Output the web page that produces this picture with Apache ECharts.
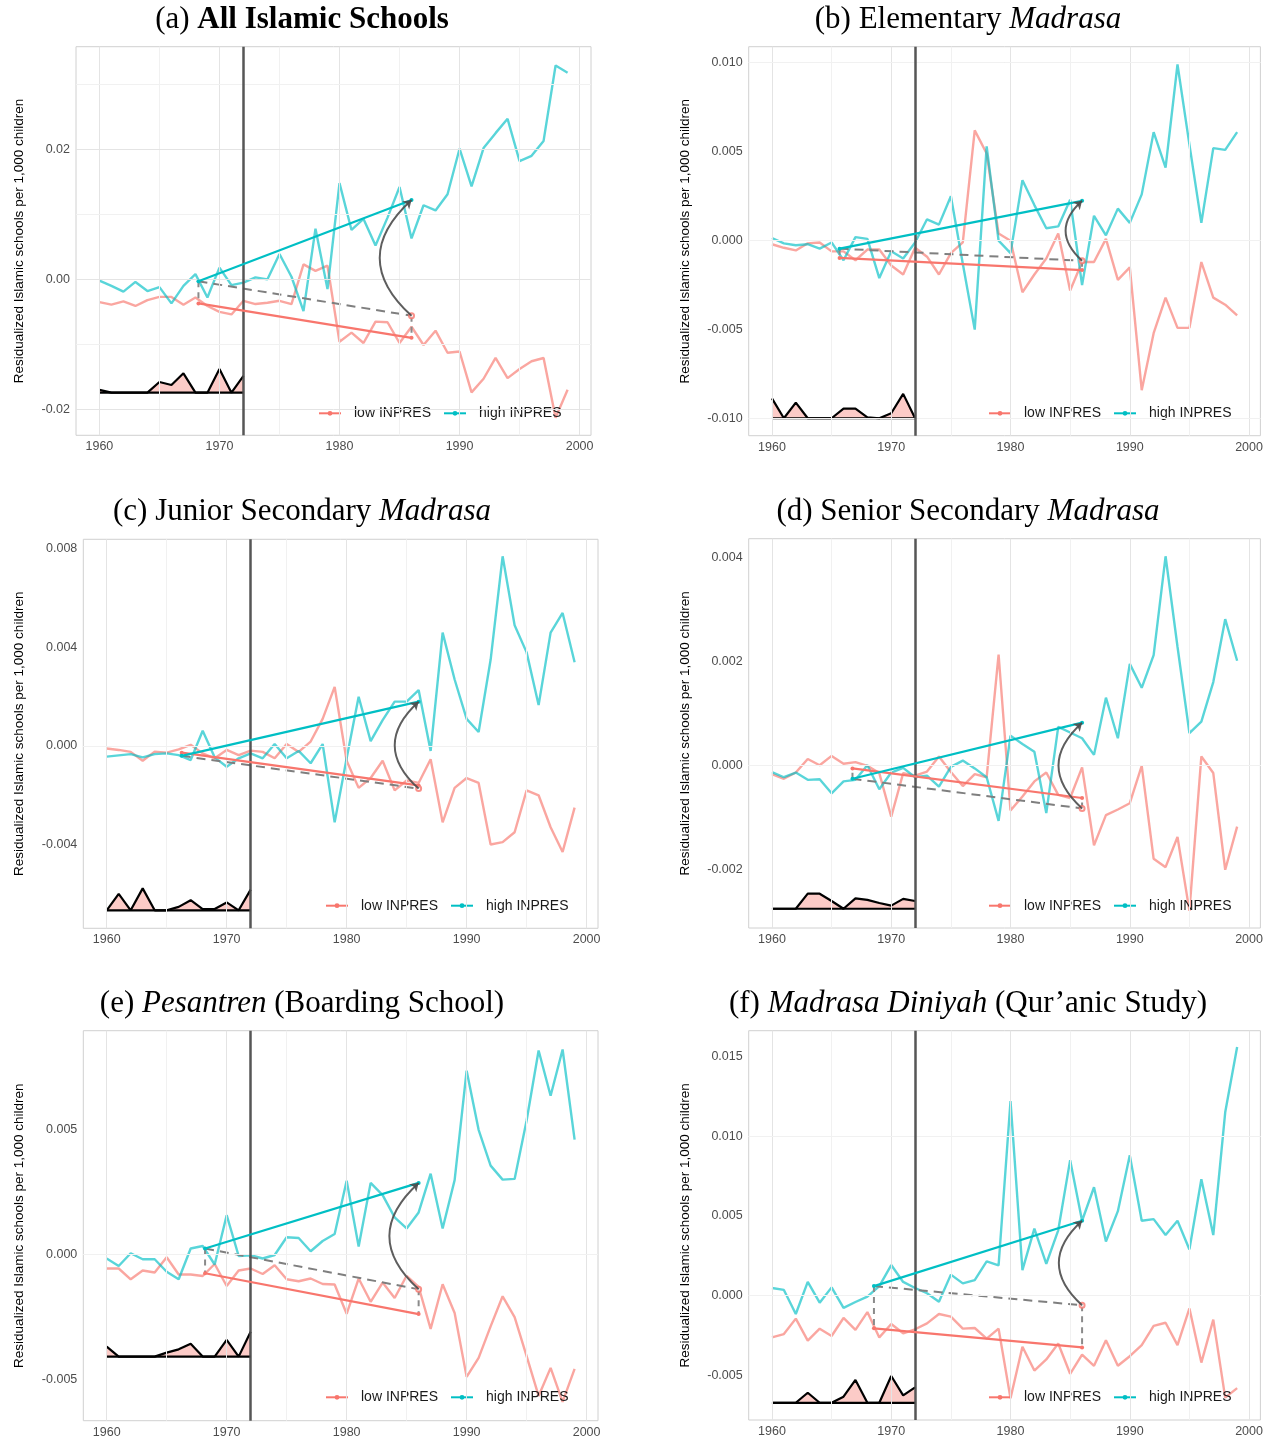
<!DOCTYPE html>
<html><head><meta charset="utf-8">
<script src="https://cdn.jsdelivr.net/npm/echarts@6/dist/echarts.min.js"></script>
<style>html,body{margin:0;padding:0;background:#fff}#c{width:1275px;height:1439px}</style>
</head><body><div id="c"></div>
<script>
// ---------------- DATA ----------------
const years = [1960,1961,1962,1963,1964,1965,1966,1967,1968,1969,1970,1971,1972,1973,1974,1975,1976,1977,1978,1979,
               1980,1981,1982,1983,1984,1985,1986,1987,1988,1989,1990,1991,1992,1993,1994,1995,1996,1997,1998,1999];
const polyYears = [1960,1961,1962,1963,1964,1965,1966,1967,1968,1969,1970,1971,1972];
const xTicks = [1960,1970,1980,1990,2000];
const xMinor = [1965,1975,1985,1995];
const seriesNames = ['low INPRES','high INPRES'];
const yAxisTitle = 'Residualized Islamic schools per 1,000 children';
const titles = [
  '{n|(a) }{b|All Islamic Schools}',
  '{n|(b) Elementary }{i|Madrasa}',
  '{n|(c) Junior Secondary }{i|Madrasa}',
  '{n|(d) Senior Secondary }{i|Madrasa}',
  '{n|(e) }{i|Pesantren}{n| (Boarding School)}',
  '{n|(f) }{i|Madrasa Diniyah}{n| (Qur\u2019anic Study)}'
];

// (a) All Islamic Schools
const lowA = [-0.0035,-0.0039,-0.0034,-0.0041,-0.0032,-0.0027,-0.0027,-0.0039,-0.0028,-0.0041,-0.0050,-0.0054,-0.0033,-0.0038,-0.0036,-0.0033,-0.0038,0.0023,0.0013,0.0021,
              -0.0096,-0.0082,-0.0098,-0.0065,-0.0066,-0.0098,-0.0073,-0.0101,-0.0079,-0.0113,-0.0111,-0.0174,-0.0153,-0.0121,-0.0152,-0.0138,-0.0126,-0.0121,-0.0213,-0.0170];
const highA = [-0.0002,-0.0010,-0.0019,-0.0004,-0.0018,-0.0012,-0.0037,-0.0010,0.0008,-0.0028,0.0018,-0.0009,-0.0005,0.0003,0.0000,0.0039,0.0004,-0.0049,0.0078,-0.0015,
               0.0148,0.0076,0.0093,0.0052,0.0095,0.0142,0.0063,0.0114,0.0106,0.0131,0.0201,0.0143,0.0202,0.0225,0.0247,0.0182,0.0190,0.0213,0.0329,0.0318];
const polyA = [-0.0170,-0.01744,-0.01744,-0.01744,-0.01744,-0.0158,-0.01626,-0.01446,-0.01744,-0.01744,-0.0138,-0.01744,-0.01487];
const trendA = [1968.25,-0.0003,0.0122,-0.0037,-0.0090]; // start year, high start, high end(1986), low start, low end(1986)
const yTicksA = [-0.02,0,0.02];
const yMinorA = [-0.01,0.01,0.03];

// (b) Elementary Madrasa
const lowB = [-0.0002,-0.0004,-0.00055,-0.00015,-0.0001,-0.0006,-0.0006,-0.0011,-0.0005,-0.0005,-0.0014,-0.0019,-0.0004,-0.0009,-0.0019,-0.0007,-0.0001,0.0062,0.0049,0.0004,
              0.0000,-0.0029,-0.0019,-0.0010,0.0004,-0.0028,-0.0012,-0.0012,0.0001,-0.0022,-0.0015,-0.0084,-0.0052,-0.0032,-0.0049,-0.0049,-0.0012,-0.0032,-0.0036,-0.0042];
const highB = [0.00015,-0.00015,-0.00026,-0.0002,-0.00045,-0.0001,-0.0011,0.0002,0.0001,-0.0021,-0.0006,-0.0010,-0.0001,0.0012,0.0009,0.0025,-0.0013,-0.0050,0.0053,0.0000,
               -0.0007,0.0034,0.0020,0.0007,0.0008,0.0023,-0.0025,0.0014,0.0003,0.0018,0.0010,0.0026,0.0061,0.0041,0.0099,0.0054,0.0010,0.0052,0.0051,0.0061];
const polyB = [-0.00886,-0.00998,-0.0091,-0.00998,-0.00998,-0.00998,-0.00944,-0.00944,-0.00993,-0.00998,-0.0097,-0.00861,-0.00998];
const trendB = [1965.67,-0.00045,0.00224,-0.00097,-0.00165];
const yTicksB = [-0.01,-0.005,0,0.005,0.01];
const yMinorB = [-0.0075,-0.0025,0.0025,0.0075];

// (c) Junior Secondary Madrasa
const lowC = [-0.0001,-0.00016,-0.00024,-0.0006,-0.00023,-0.00027,-0.00014,0.00005,-0.0003,-0.0005,-0.00016,-0.00037,-0.00019,-0.00024,-0.0005,0.00008,-0.00024,0.00018,0.0011,0.0024,
              -0.0006,-0.0017,-0.0013,-0.0006,-0.0018,-0.0014,-0.0015,-0.00054,-0.0031,-0.0017,-0.0013,-0.0015,-0.0040,-0.0039,-0.0035,-0.0018,-0.0020,-0.0033,-0.0043,-0.0025];
const highC = [-0.00043,-0.00038,-0.00033,-0.00046,-0.00033,-0.0003,-0.00037,-0.00057,0.00062,-0.00046,-0.00084,-0.0005,-0.0003,-0.0005,0.00008,-0.0005,-0.0002,-0.0007,0.00008,-0.0031,
               -0.0005,0.0020,0.0002,0.00105,0.0018,0.0018,0.00227,-0.0002,0.0046,0.0027,0.0011,0.00057,0.0035,0.0077,0.0049,0.0038,0.00166,0.0046,0.0054,0.0034];
const polyC = [-0.00667,-0.0060,-0.00667,-0.00578,-0.00667,-0.00667,-0.00653,-0.00626,-0.00662,-0.00662,-0.00635,-0.00667,-0.00583];
const trendC = [1966.25,-0.0004,0.0018,-0.00027,-0.0016];
const yTicksC = [-0.004,0,0.004,0.008];
const yMinorC = [-0.006,-0.002,0.002,0.006];

// (d) Senior Secondary Madrasa
const lowD = [-0.00017,-0.00026,-0.00014,0.00012,0.0000,0.00018,0.00003,0.00006,-0.00001,-0.00015,-0.00099,-0.00015,-0.0002,-0.00012,0.00017,-0.00013,-0.0004,-0.00017,-0.00023,0.00213,
              -0.00087,-0.0006,-0.00031,-0.00014,-0.00057,-0.00063,-0.00004,-0.00154,-0.00096,-0.00085,-0.00073,-0.00001,-0.0018,-0.00196,-0.00138,-0.0028,0.00017,-0.00015,-0.00201,-0.00118];
const highD = [-0.00013,-0.00023,-0.00014,-0.00028,-0.00027,-0.00054,-0.00031,-0.00028,0.0000,-0.00046,-0.00014,-0.00005,-0.00023,-0.0002,-0.00041,-0.00003,0.00009,-0.00006,-0.00023,-0.00107,
               0.00057,0.00041,0.00026,-0.00092,0.00074,0.00063,0.00052,0.0002,0.0013,0.00052,0.00195,0.00149,0.00212,0.00402,0.00228,0.00062,0.00084,0.0016,0.00281,0.00201];
const polyD = [-0.00276,-0.00276,-0.00276,-0.00247,-0.00247,-0.00261,-0.00276,-0.00256,-0.00259,-0.00265,-0.0027,-0.00257,-0.00261];
const trendD = [1966.75,-0.00026,0.00082,-0.00006,-0.00063];
const yTicksD = [-0.002,0,0.002,0.004];
const yMinorD = [-0.003,-0.001,0.001,0.003];

// (e) Pesantren
const lowE = [-0.00057,-0.00057,-0.0010,-0.00065,-0.00073,-0.00012,-0.00081,-0.00081,-0.00087,-0.00039,-0.00127,-0.00065,-0.00057,-0.00079,-0.00044,-0.0010,-0.00108,-0.00097,-0.00119,-0.00121,
              -0.00238,-0.00097,-0.0019,-0.00113,-0.00175,-0.00086,-0.0013,-0.00298,-0.0012,-0.00235,-0.0049,-0.00414,-0.00288,-0.00168,-0.00251,-0.00407,-0.00566,-0.00454,-0.0059,-0.00458];
const highE = [-0.00017,-0.00047,0.00004,-0.0002,-0.0002,-0.0007,-0.0010,0.00023,0.00033,-0.00041,0.00156,-0.00007,-0.00004,-0.00017,-0.00003,0.00068,0.00065,0.00012,0.00053,0.00081,
               0.00294,0.00031,0.00285,0.00236,0.00147,0.00103,0.00167,0.00322,0.00103,0.00296,0.00733,0.00497,0.00354,0.00298,0.00301,0.00534,0.00814,0.00633,0.00818,0.00458];
const polyE = [-0.00369,-0.00409,-0.00409,-0.00409,-0.00409,-0.00393,-0.0038,-0.00358,-0.00409,-0.00409,-0.00342,-0.00409,-0.0031];
const trendE = [1968.2,0.00023,0.00285,-0.00076,-0.00239];
const yTicksE = [-0.005,0,0.005];
const yMinorE = [-0.0025,0.0025,0.0075];

// (f) Madrasa Diniyah
const lowF = [-0.00262,-0.00241,-0.00144,-0.00282,-0.00207,-0.00253,-0.0014,-0.00215,-0.00103,-0.00262,-0.00178,-0.00236,-0.00211,-0.00174,-0.00115,-0.00132,-0.00207,-0.00203,-0.0027,-0.00207,
              -0.00644,-0.0032,-0.0047,-0.0040,-0.0030,-0.0049,-0.0037,-0.0044,-0.0028,-0.0044,-0.0038,-0.0031,-0.0019,-0.0017,-0.0031,-0.0008,-0.0042,-0.0015,-0.0064,-0.0058];
const highF = [0.00048,0.00036,-0.00115,0.00086,-0.00044,0.00052,-0.00077,-0.0004,-0.00006,0.0006,0.00192,0.00086,0.00048,0.00015,-0.00038,0.00132,0.00077,0.00098,0.00215,0.0019,
               0.0122,0.0016,0.0042,0.0020,0.0041,0.0085,0.0047,0.0068,0.0034,0.0053,0.0088,0.0047,0.0048,0.0038,0.0047,0.0029,0.0073,0.0038,0.0115,0.0156];
const polyF = [-0.00672,-0.00672,-0.00672,-0.00609,-0.00672,-0.00672,-0.00634,-0.00529,-0.00672,-0.00672,-0.00504,-0.00626,-0.00575];
const trendF = [1968.55,0.0006,0.0047,-0.00205,-0.00325];
const yTicksF = [-0.005,0,0.005,0.01,0.015];
const yMinorF = [-0.0075,-0.0025,0.0025,0.0075,0.0125];

const polyBase = [-0.01744,-0.00998,-0.00667,-0.00276,-0.00409,-0.00672];
const policyYear = 1972;
const endYear = 1986;

// ---------------- LAYOUT ----------------
const panels = [
  {low:lowA, high:highA, poly:polyA, trend:trendA, yTicks:yTicksA, yMinor:yMinorA, dec:2},
  {low:lowB, high:highB, poly:polyB, trend:trendB, yTicks:yTicksB, yMinor:yMinorB, dec:3},
  {low:lowC, high:highC, poly:polyC, trend:trendC, yTicks:yTicksC, yMinor:yMinorC, dec:3},
  {low:lowD, high:highD, poly:polyD, trend:trendD, yTicks:yTicksD, yMinor:yMinorD, dec:3},
  {low:lowE, high:highE, poly:polyE, trend:trendE, yTicks:yTicksE, yMinor:yMinorE, dec:3},
  {low:lowF, high:highF, poly:polyF, trend:trendF, yTicks:yTicksF, yMinor:yMinorF, dec:3}
];
const layout = [
  {left:76,    top:46.7,   width:515,   height:388.6, ymin:-0.024,   ymax:0.0358,   tx:302, ty:19,   lx:318, ly:409.3, gap:50},
  {left:748.7, top:46.7,   width:511.7, height:389,   ymin:-0.01096, ymax:0.0109,   tx:968, ty:19,   lx:988, ly:409.3, gap:56},
  {left:83.3,  top:539.3,  width:514.7, height:389,   ymin:-0.0074,  ymax:0.00839,  tx:302, ty:511,  lx:325, ly:901.7, gap:57},
  {left:748.7, top:538.7,  width:511.7, height:389.3, ymin:-0.00313, ymax:0.004358, tx:968, ty:511,  lx:988, ly:901.7, gap:56},
  {left:83.3,  top:1030.7, width:514.7, height:390,   ymin:-0.00665, ymax:0.00893,  tx:302, ty:1003, lx:325, ly:1393.3, gap:57},
  {left:748.7, top:1030.7, width:511.7, height:389.3, ymin:-0.0078,  ymax:0.01662,  tx:968, ty:1003, lx:988, ly:1393.3, gap:56}
];

const SANS = "'Liberation Sans', Arial, sans-serif";
const SERIF = "'Liberation Serif', 'Times New Roman', serif";
const RED = '#F8766D', TEAL = '#00BFC4';
const RED_A = 'rgba(248,118,109,0.65)', TEAL_A = 'rgba(0,191,196,0.65)';
const TFS = 31;

const option = {animation:false, backgroundColor:'#ffffff', title:[], legend:[], grid:[], xAxis:[], yAxis:[], series:[]};

panels.forEach((p, i) => {
  const L = layout[i];
  const [x0, hs, he, ls, le] = p.trend;
  const cf = hs + (le - ls);
  const base = polyBase[i];

  option.title.push({
    text: titles[i], left: L.tx, top: L.ty - 15, textAlign: 'center', padding: 0,
    textStyle: {fontFamily: SERIF, fontSize: TFS, fontWeight: 'normal', color: '#000', rich: {
      n: {fontFamily: SERIF, fontSize: TFS, color: '#000', fontWeight: 'normal', fontStyle: 'normal'},
      b: {fontFamily: SERIF, fontSize: TFS, color: '#000', fontWeight: 'bold', fontStyle: 'normal'},
      i: {fontFamily: SERIF, fontSize: TFS, color: '#000', fontWeight: 'normal', fontStyle: 'italic'}
    }}
  });
  option.legend.push({
    data: seriesNames, left: L.lx, top: L.ly - 3, itemWidth: 22, itemHeight: 6, itemGap: 12,
    selectedMode: false, padding: 0,
    textStyle: {fontFamily: SANS, fontSize: 14, color: '#1a1a1a', padding: [0,0,0,8]}
  });
  option.grid.push({left: L.left, top: L.top, width: L.width, height: L.height, show: true,
    borderColor: '#d0d0d0', borderWidth: 1, containLabel: false, outerBoundsMode: 'none'});
  option.xAxis.push({gridIndex: i, type: 'value', min: 1958.05, max: 2000.95,
    axisLine: {show: false}, axisTick: {show: false}, splitLine: {show: false},
    axisLabel: {customValues: xTicks, formatter: v => String(Math.round(v)), color: '#4d4d4d', fontSize: 12.5, fontFamily: SANS, margin: 5}});
  option.yAxis.push({gridIndex: i, type: 'value', min: L.ymin, max: L.ymax,
    axisLine: {show: false}, axisTick: {show: false}, splitLine: {show: false},
    axisLabel: {customValues: p.yTicks, formatter: v => Number(v).toFixed(p.dec), color: '#4d4d4d', fontSize: 12.5, fontFamily: SANS, margin: 6},
    name: yAxisTitle, nameLocation: 'middle', nameGap: L.gap,
    nameTextStyle: {fontFamily: SANS, fontSize: 13.5, color: '#000'}});

  const gl = [];
  xTicks.forEach(v => gl.push({xAxis: v, lineStyle: {color: '#e4e4e4', width: 1, type: 'solid'}}));
  xMinor.forEach(v => gl.push({xAxis: v, lineStyle: {color: '#f1f1f1', width: 1, type: 'solid'}}));
  p.yTicks.forEach(v => gl.push({yAxis: v, lineStyle: {color: '#e4e4e4', width: 1, type: 'solid'}}));
  p.yMinor.forEach(v => gl.push({yAxis: v, lineStyle: {color: '#f1f1f1', width: 1, type: 'solid'}}));
  const ax = {xAxisIndex: i, yAxisIndex: i};

  option.series.push(Object.assign({type: 'line', name: 'grid', data: [], z: 0, silent: true,
    markLine: {silent: true, symbol: ['none','none'], label: {show: false}, animation: false, data: gl}}, ax));
  option.series.push(Object.assign({type: 'line', name: 'low data', data: years.map((y,k) => [y, p.low[k]]),
    symbol: 'none', lineStyle: {color: RED_A, width: 2.4}, itemStyle: {color: RED_A}, z: 2}, ax));
  option.series.push(Object.assign({type: 'line', name: 'high data', data: years.map((y,k) => [y, p.high[k]]),
    symbol: 'none', lineStyle: {color: TEAL_A, width: 2.4}, itemStyle: {color: TEAL_A}, z: 2}, ax));
  option.series.push(Object.assign({type: 'line', name: 'pre', data: polyYears.map((y,k) => [y, p.poly[k]]),
    symbol: 'none', lineStyle: {color: '#000', width: 2.2}, areaStyle: {origin: base, color: 'rgba(248,118,109,0.38)', opacity: 1}, z: 3}, ax));
  option.series.push(Object.assign({type: 'line', name: 'prebase', data: [[polyYears[0], base], [policyYear, base]],
    symbol: 'none', lineStyle: {color: '#000', width: 2.2}, z: 3}, ax));
  option.series.push(Object.assign({type: 'line', name: 'dash', data: [[x0, hs], [endYear, cf]],
    symbol: 'none', lineStyle: {color: '#7f7f7f', width: 2, type: [9,6]}, z: 4}, ax));
  option.series.push(Object.assign({type: 'line', name: 'dash0', data: [[x0, hs], [x0, ls]],
    symbol: 'none', lineStyle: {color: '#8a8a8a', width: 2, type: [6,5]}, z: 4}, ax));
  option.series.push(Object.assign({type: 'line', name: 'dash1', data: [[endYear, cf], [endYear, le]],
    symbol: 'none', lineStyle: {color: '#8a8a8a', width: 2, type: [6,5]}, z: 4}, ax));
  option.series.push(Object.assign({type: 'line', name: seriesNames[0], data: [[x0, ls], [endYear, le]],
    symbol: 'circle', symbolSize: 4, lineStyle: {color: RED, width: 2.2}, itemStyle: {color: RED}, z: 5}, ax));
  option.series.push(Object.assign({type: 'line', name: seriesNames[1], data: [[x0, hs], [endYear, he]],
    symbol: 'circle', symbolSize: 4, lineStyle: {color: TEAL, width: 2.2}, itemStyle: {color: TEAL}, z: 5}, ax));
  option.series.push(Object.assign({type: 'scatter', name: 'cf', data: [[endYear, cf]],
    symbol: 'emptyCircle', symbolSize: 5, itemStyle: {color: RED, borderWidth: 1}, z: 5}, ax));
  option.series.push(Object.assign({type: 'lines', name: 'arrow', coordinateSystem: 'cartesian2d',
    data: [{coords: [[endYear, cf], [endYear, he]]}],
    lineStyle: {color: '#4d4d4d', width: 2, curveness: 0.55, opacity: 0.9},
    symbol: ['none', 'arrow'], symbolSize: 8, z: 6}, ax));
  option.series.push(Object.assign({type: 'line', name: 'policy', data: [], z: 8, silent: true,
    markLine: {silent: true, symbol: ['none','none'], label: {show: false}, animation: false,
      data: [{xAxis: policyYear, lineStyle: {color: '#4d4d4d', width: 2.5, type: 'solid', opacity: 0.95}}]}}, ax));
});

const chart = echarts.init(document.getElementById('c'), null, {renderer: 'canvas'});
chart.setOption(option);
</script>
</body></html>
